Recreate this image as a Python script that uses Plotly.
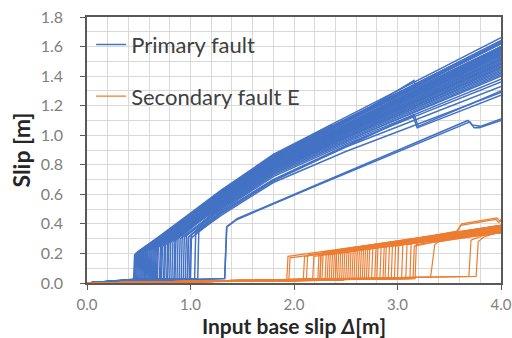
import plotly.graph_objects as go

# ---------------- data ----------------
# Primary fault: jump onset (input slip), slip before the jump, slip right after the jump,
# and slip at input slip 1.3, 1.8, 2.5 and 4.0
B_ON   = [0.45,0.46,0.47,0.48,0.49,0.50,0.51,0.52,0.53,0.54,0.55,0.56,0.57,0.58,0.59,0.60,0.61,0.62,0.63,0.64,0.65,0.66,
          0.67,0.68,0.70,0.71,0.72,0.74,0.75,0.77,0.78,0.80,0.82,0.84,0.85,0.87,0.89,0.91,0.93,0.95,0.97,1.00,1.04,1.07]
B_PRE  = [0.02,0.02,0.02,0.02,0.02,0.02,0.02,0.02,0.02,0.03,0.02,0.03,0.02,0.03,0.02,0.03,0.02,0.03,0.03,0.02,0.03,0.03,
          0.03,0.03,0.03,0.03,0.03,0.03,0.03,0.03,0.03,0.03,0.03,0.03,0.03,0.03,0.03,0.03,0.03,0.03,0.03,0.03,0.03,0.03]
B_JUMP = [0.19,0.20,0.19,0.21,0.20,0.22,0.20,0.22,0.21,0.23,0.21,0.23,0.22,0.24,0.22,0.24,0.23,0.25,0.23,0.25,0.24,0.26,
          0.24,0.26,0.25,0.27,0.25,0.28,0.26,0.28,0.27,0.29,0.28,0.30,0.29,0.31,0.30,0.32,0.31,0.32,0.31,0.33,0.34,0.35]
B_V13  = [0.63,0.61,0.62,0.60,0.62,0.60,0.58,0.61,0.59,0.62,0.57,0.60,0.58,0.61,0.56,0.59,0.58,0.60,0.55,0.58,0.57,0.60,
          0.55,0.57,0.56,0.59,0.54,0.57,0.55,0.58,0.53,0.55,0.54,0.52,0.56,0.53,0.51,0.54,0.50,0.52,0.49,0.51,0.48,0.46]
B_V18  = [0.87,0.85,0.86,0.83,0.85,0.84,0.81,0.85,0.82,0.86,0.80,0.84,0.82,0.85,0.79,0.83,0.81,0.84,0.78,0.82,0.80,0.83,
          0.77,0.81,0.79,0.82,0.77,0.80,0.78,0.81,0.76,0.78,0.77,0.75,0.79,0.76,0.74,0.77,0.73,0.75,0.72,0.74,0.70,0.68]
B_V25  = [1.12,1.10,1.11,1.07,1.10,1.09,1.05,1.09,1.06,1.11,1.04,1.08,1.06,1.10,1.03,1.07,1.05,1.09,1.02,1.06,1.03,1.07,
          1.01,1.04,1.02,1.06,0.99,1.03,1.01,1.05,0.98,1.02,1.00,0.97,1.03,0.99,0.96,0.99,0.95,0.98,0.94,0.96,0.92,0.89]
B_V4   = [1.66,1.62,1.64,1.59,1.63,1.60,1.55,1.62,1.57,1.64,1.53,1.59,1.56,1.62,1.51,1.58,1.54,1.60,1.49,1.56,1.52,1.59,
          1.48,1.54,1.50,1.57,1.46,1.52,1.48,1.55,1.44,1.49,1.47,1.42,1.51,1.45,1.40,1.46,1.38,1.43,1.36,1.41,1.33,1.29]
B_XGRID = [1.3, 1.8, 2.5, 4.0]

# Primary fault curves with extra features (late jump, steps and spikes)
B_SPECIAL_X = [
    [0.0, 1.33, 1.35, 1.45, 2.22, 3.70, 3.74, 3.79, 4.00],
    [0.0, 1.33, 1.35, 1.45, 2.22, 3.68, 3.72, 3.80, 4.00],
    [0.0, 0.97, 0.98, 1.3, 1.8, 2.5, 3.15, 3.19, 4.00],
    [0.0, 0.99, 1.00, 1.3, 1.8, 2.5, 3.16, 3.20, 4.00],
    [0.0, 0.56, 0.57, 1.3, 1.8, 2.5, 3.16, 3.18, 4.00],
    [0.0, 0.46, 0.47, 1.3, 1.8, 2.36, 2.38, 2.5, 4.00],
]
B_SPECIAL_Y = [
    [0.0, 0.03, 0.38, 0.43, 0.66, 1.09, 1.05, 1.05, 1.10],
    [0.0, 0.03, 0.38, 0.435, 0.665, 1.10, 1.07, 1.06, 1.11],
    [0.0, 0.03, 0.31, 0.48, 0.70, 0.93, 1.13, 1.05, 1.27],
    [0.0, 0.03, 0.30, 0.47, 0.69, 0.92, 1.14, 1.06, 1.30],
    [0.0, 0.02, 0.22, 0.60, 0.84, 1.09, 1.37, 1.30, 1.58],
    [0.0, 0.02, 0.19, 0.62, 0.86, 1.07, 1.01, 1.05, 1.60],
]

# Secondary fault E: onset, slip before jump, slip right after jump, slip at input 4.0
O_ON   = [1.93,1.95,2.09,2.12,2.18,2.23,2.25,2.27,2.30,2.32,2.34,2.36,2.38,2.40,2.42,2.44,2.46,2.48,2.50,2.52,
          2.54,2.56,2.58,2.60,2.62,2.64,2.66,2.68,2.70,2.72,2.75,2.78,2.80,2.83,2.86,2.88,2.91,2.94,2.97,3.00,
          3.04,3.08,3.12,3.15,3.17]
O_PRE  = [0.02,0.02,0.02,0.02,0.02,0.02,0.02,0.02,0.02,0.02,0.02,0.02,0.02,0.02,0.02,0.02,0.02,0.02,0.03,0.03,
          0.03,0.03,0.03,0.03,0.03,0.03,0.03,0.03,0.03,0.03,0.03,0.03,0.03,0.03,0.03,0.03,0.03,0.03,0.03,0.03,
          0.03,0.03,0.03,0.03,0.03]
O_JUMP = [0.18,0.17,0.18,0.19,0.18,0.20,0.19,0.21,0.20,0.19,0.21,0.20,0.22,0.20,0.21,0.22,0.21,0.23,0.21,0.22,
          0.23,0.22,0.24,0.22,0.23,0.24,0.23,0.25,0.23,0.24,0.25,0.24,0.26,0.24,0.25,0.26,0.25,0.27,0.25,0.26,
          0.27,0.26,0.27,0.25,0.26]
O_V4   = [0.38,0.36,0.39,0.37,0.35,0.38,0.36,0.39,0.34,0.37,0.38,0.35,0.39,0.36,0.37,0.34,0.38,0.36,0.39,0.35,
          0.37,0.38,0.36,0.34,0.39,0.37,0.35,0.38,0.36,0.37,0.39,0.34,0.38,0.36,0.37,0.35,0.38,0.36,0.39,0.37,
          0.35,0.38,0.36,0.37,0.34]

O_SPECIAL_X = [
    [0.0, 3.32, 3.36, 3.40, 4.00],
    [0.0, 3.69, 3.71, 3.82, 4.00],
    [0.0, 3.76, 3.78, 3.83, 4.00],
    [0.0, 2.25, 2.26, 3.58, 3.62, 3.96, 3.99, 4.00],
    [0.0, 2.40, 2.41, 3.57, 3.61, 3.95, 3.98, 4.00],
]
O_SPECIAL_Y = [
    [0.0, 0.04, 0.26, 0.28, 0.35],
    [0.0, 0.045, 0.29, 0.32, 0.34],
    [0.0, 0.045, 0.28, 0.31, 0.35],
    [0.0, 0.02, 0.19, 0.35, 0.40, 0.44, 0.42, 0.43],
    [0.0, 0.02, 0.20, 0.35, 0.39, 0.43, 0.41, 0.42],
]

BLUE = "#4472C4"
ORANGE = "#ED7D31"
FONT = "Lato"
LWB = 1.5
LWO = 1.2

fig = go.Figure()

# primary fault traces
for i in range(len(B_ON)):
    xs = [0.0, B_ON[i], B_ON[i] + 0.01] + B_XGRID
    ys = [0.0, B_PRE[i], B_JUMP[i], B_V13[i], B_V18[i], B_V25[i], B_V4[i]]
    fig.add_trace(go.Scatter(x=xs, y=ys, mode="lines", line=dict(color=BLUE, width=LWB),
                             name="Primary fault", legendgroup="p", showlegend=(i == 0),
                             hoverinfo="skip"))
for xs, ys in zip(B_SPECIAL_X, B_SPECIAL_Y):
    fig.add_trace(go.Scatter(x=xs, y=ys, mode="lines", line=dict(color=BLUE, width=LWB),
                             legendgroup="p", showlegend=False, hoverinfo="skip"))

# secondary fault traces
for i in range(len(O_ON)):
    xs = [0.0, O_ON[i], O_ON[i] + 0.012, 4.0]
    ys = [0.0, O_PRE[i], O_JUMP[i], O_V4[i]]
    fig.add_trace(go.Scatter(x=xs, y=ys, mode="lines", line=dict(color=ORANGE, width=LWO),
                             name="Secondary fault E", legendgroup="s", showlegend=(i == 0),
                             hoverinfo="skip"))
for xs, ys in zip(O_SPECIAL_X, O_SPECIAL_Y):
    fig.add_trace(go.Scatter(x=xs, y=ys, mode="lines", line=dict(color=ORANGE, width=LWO),
                             legendgroup="s", showlegend=False, hoverinfo="skip"))

fig.update_layout(
    width=512, height=338,
    margin=dict(l=87, r=11, t=17, b=55),
    paper_bgcolor="white", plot_bgcolor="white",
    font=dict(family=FONT, color="#404040"),
    legend=dict(x=0.01, y=0.975, xanchor="left", yanchor="top",
                bgcolor="rgba(0,0,0,0)", font=dict(size=22, color="#404040"),
                tracegroupgap=20, itemwidth=30),
    showlegend=True,
)

fig.update_xaxes(
    range=[0, 4], dtick=1, tick0=0, tickformat=".1f", automargin=False,
    ticklabeloverflow="allow",
    showgrid=True, gridcolor="#D9D9D9", gridwidth=1,
    minor=dict(dtick=0.2, showgrid=True, gridcolor="#D9D9D9", gridwidth=1),
    showline=True, linecolor="#595959", linewidth=1.5, mirror=True,
    ticks="outside", ticklen=5, tickcolor="#595959",
    tickfont=dict(size=15, color="#808080", family=FONT),
    ticklabelstandoff=2,
    title=dict(text="<b>Input base slip <i>Δ</i>[m]</b>", font=dict(size=21, color="#262626", family=FONT),
               standoff=0),
    zeroline=False,
)
fig.update_yaxes(
    range=[0, 1.8], dtick=0.2, tick0=0, tickformat=".1f", automargin=False,
    showgrid=True, gridcolor="#D9D9D9", gridwidth=1,
    minor=dict(dtick=0.1, showgrid=True, gridcolor="#D9D9D9", gridwidth=1),
    showline=True, linecolor="#595959", linewidth=1.5, mirror=True,
    ticks="outside", ticklen=5, tickcolor="#595959",
    tickfont=dict(size=16, color="#808080", family=FONT),
    ticklabelstandoff=14,
    title=dict(text="<b>Slip [m]</b>", font=dict(size=23, color="#262626", family=FONT), standoff=4),
    zeroline=False,
)

fig.write_html("out.html")
